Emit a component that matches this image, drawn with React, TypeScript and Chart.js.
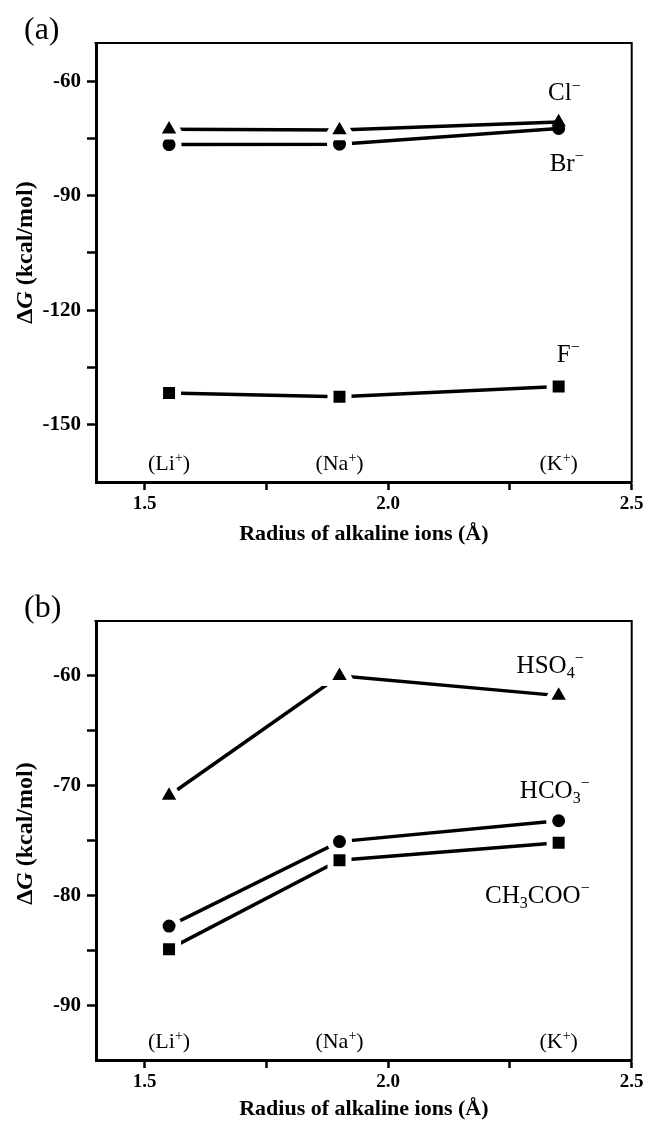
import React, { useEffect, useRef } from 'react';
import { Chart, registerables } from 'chart.js';

Chart.register(...registerables);

// ---------- data ----------
const radius = [1.55, 1.9, 2.35];
const cations = ['Li', 'Na', 'K'];

const clValues = [-72.6, -72.8, -70.7];
const brValues = [-76.6, -76.5, -72.4];
const fValues = [-141.7, -142.7, -140.0];

const hso4Values = [-70.9, -60.0, -61.8];
const hco3Values = [-82.8, -75.1, -73.2];
const ch3cooValues = [-84.9, -76.8, -75.2];

const xTicks = [1.5, 1.75, 2.0, 2.25, 2.5];
const xTickLabels = ['1.5', '', '2.0', '', '2.5'];
const yTicksA = [-60, -75, -90, -105, -120, -135, -150];
const yTickLabelsA = ['-60', '', '-90', '', '-120', '', '-150'];
const yTicksB = [-60, -65, -70, -75, -80, -85, -90];
const yTickLabelsB = ['-60', '', '-70', '', '-80', '', '-90'];

type Run = { t: string; s?: 'sup' | 'sub'; i?: boolean };

const clName: Run[] = [{ t: 'Cl' }, { t: '−', s: 'sup' }];
const brName: Run[] = [{ t: 'Br' }, { t: '−', s: 'sup' }];
const fName: Run[] = [{ t: 'F' }, { t: '−', s: 'sup' }];
const hso4Name: Run[] = [{ t: 'HSO' }, { t: '4', s: 'sub' }, { t: '−', s: 'sup' }];
const hco3Name: Run[] = [{ t: 'HCO' }, { t: '3', s: 'sub' }, { t: '−', s: 'sup' }];
const ch3cooName: Run[] = [{ t: 'CH' }, { t: '3', s: 'sub' }, { t: 'COO' }, { t: '−', s: 'sup' }];

const xTitle = 'Radius of alkaline ions (Å)';
const yTitleRuns: Run[] = [{ t: 'Δ' }, { t: 'G', i: true }, { t: ' (kcal/mol)' }];

// ---------- style ----------
const FONT = '"Liberation Serif", "Times New Roman", serif';
const HALO = 6;

function drawRuns(ctx: CanvasRenderingContext2D, runs: Run[], x: number, y: number, align: string, size: number, weight: string) {
  const fontFor = (r: Run) => `${r.i ? 'italic ' : ''}${weight} ${r.s ? Math.round(size * 0.62) : size}px ${FONT}`;
  let total = 0;
  const widths = runs.map((r) => {
    ctx.font = fontFor(r);
    const w = ctx.measureText(r.t).width;
    total += w;
    return w;
  });
  let cx = align === 'right' ? x - total : align === 'center' ? x - total / 2 : x;
  ctx.textAlign = 'left';
  ctx.textBaseline = 'alphabetic';
  runs.forEach((r, k) => {
    ctx.font = fontFor(r);
    const dy = r.s === 'sup' ? -size * 0.38 : r.s === 'sub' ? size * 0.2 : 0;
    ctx.fillText(r.t, cx, y + dy);
    cx += widths[k];
  });
}

const annotPlugin = {
  id: 'annot',
  afterDraw(chart: any, _args: any, opts: any) {
    const { ctx, chartArea: ca, scales } = chart;
    const p = opts.panel;
    ctx.save();
    ctx.strokeStyle = '#000';
    ctx.lineWidth = 2;
    ctx.beginPath();
    ctx.moveTo(ca.left - 1.5, ca.top);
    ctx.lineTo(ca.right, ca.top);
    ctx.lineTo(ca.right, ca.bottom + 1.5);
    ctx.stroke();

    ctx.fillStyle = '#000';
    drawRuns(ctx, [{ t: p.tag }], 24, ca.top - 4, 'left', 32, 'normal');

    radius.forEach((r, i) => {
      drawRuns(
        ctx,
        [{ t: '(' + cations[i] }, { t: '+', s: 'sup' }, { t: ')' }],
        scales.x.getPixelForValue(r),
        ca.bottom - 12,
        'center',
        22,
        'normal'
      );
    });

    p.series.forEach((s: any) => {
      const last = s.values.length - 1;
      const px = scales.x.getPixelForValue(radius[last]);
      const py = scales.y.getPixelForValue(s.values[last]);
      drawRuns(ctx, s.name, px + s.dx, py + s.dy, 'right', 25, 'normal');
    });

    ctx.translate(24, (ca.top + ca.bottom) / 2 + p.yTitleShift);
    ctx.rotate(-Math.PI / 2);
    drawRuns(ctx, yTitleRuns, 0, 8, 'center', 24, 'bold');
    ctx.restore();
  },
};

const markerSize: Record<string, number> = { triangle: 8.3, circle: 6.5 };
function radiusFor(style: string, halo: number) {
  if (style === 'triangle') return markerSize.triangle + halo;
  if (style === 'circle') return markerSize.circle + halo / 2;
  return (6 + halo / 2) / Math.SQRT1_2;
}

const panelA = {
  tag: '(a)',
  yMin: -165,
  yMax: -50,
  yTicks: yTicksA,
  yTickLabels: yTickLabelsA,
  padTop: 43,
  height: 561,
  xAxisHeight: 79,
  titlePad: 13,
  yTitleShift: -10,
  series: [
    { name: clName, values: clValues, style: 'triangle', dx: 22, dy: -22, noHalo: [2] },
    { name: brName, values: brValues, style: 'circle', dx: 25, dy: 42, noHalo: [2] },
    { name: fName, values: fValues, style: 'rect', dx: 21, dy: -25, noHalo: [] },
  ],
};

const panelB = {
  tag: '(b)',
  yMin: -95,
  yMax: -55,
  yTicks: yTicksB,
  yTickLabels: yTickLabelsB,
  padTop: 60,
  height: 562,
  xAxisHeight: 63,
  titlePad: 0,
  yTitleShift: -7,
  series: [
    { name: hso4Name, values: hso4Values, style: 'triangle', dx: 25, dy: -23, noHalo: [] },
    { name: hco3Name, values: hco3Values, style: 'circle', dx: 31, dy: -23, noHalo: [] },
    { name: ch3cooName, values: ch3cooValues, style: 'rect', dx: 31, dy: 60, noHalo: [] },
  ],
};

function makeConfig(p: any): any {
  return {
    type: 'line',
    data: {
      datasets: p.series.map((s: any) => ({
        data: radius.map((x, i) => ({ x, y: s.values[i] })),
        borderColor: '#000',
        borderWidth: 3.5,
        fill: false,
        tension: 0,
        pointStyle: s.style,
        pointBackgroundColor: '#000',
        pointBorderColor: '#fff',
        pointBorderWidth: (c: any) => (s.noHalo.includes(c.dataIndex) ? 0 : HALO),
        pointRadius: (c: any) => radiusFor(s.style, s.noHalo.includes(c.dataIndex) ? 0 : HALO),
        clip: false,
      })),
    },
    options: {
      responsive: false,
      animation: false,
      devicePixelRatio: 1,
      layout: { padding: { top: p.padTop, right: 16, left: 0, bottom: 0 } },
      plugins: {
        legend: { display: false },
        tooltip: { enabled: false },
        annot: { panel: p },
      },
      scales: {
        x: {
          type: 'linear',
          min: 1.4,
          max: 2.5,
          afterBuildTicks: (axis: any) => {
            axis.ticks = xTicks.map((v) => ({ value: v }));
          },
          afterFit: (axis: any) => {
            axis.height = p.xAxisHeight;
          },
          ticks: {
            callback: (_v: any, i: number) => xTickLabels[i],
            font: { family: FONT, size: 19, weight: 'bold' },
            color: '#000',
            padding: 3,
            maxRotation: 0,
            autoSkip: false,
          },
          grid: { drawOnChartArea: false, drawTicks: true, tickLength: 8, tickWidth: 2.5, tickColor: '#000' },
          border: { display: true, color: '#000', width: 3 },
          title: {
            display: true,
            text: xTitle,
            color: '#000',
            font: { family: FONT, size: 22, weight: 'bold' },
            padding: { top: 0, bottom: p.titlePad },
          },
        },
        y: {
          type: 'linear',
          min: p.yMin,
          max: p.yMax,
          afterBuildTicks: (axis: any) => {
            axis.ticks = p.yTicks.map((v: number) => ({ value: v }));
          },
          afterFit: (axis: any) => {
            axis.width = 96;
          },
          ticks: {
            callback: (_v: any, i: number) => p.yTickLabels[i],
            font: { family: FONT, size: 21, weight: 'bold' },
            color: '#000',
            padding: 6,
            autoSkip: false,
          },
          grid: { drawOnChartArea: false, drawTicks: true, tickLength: 9, tickWidth: 2.5, tickColor: '#000' },
          border: { display: true, color: '#000', width: 3 },
        },
      },
    },
    plugins: [annotPlugin],
  };
}

function Panel({ cfg, top }: { cfg: any; top: number }) {
  const ref = useRef<HTMLCanvasElement | null>(null);
  useEffect(() => {
    const chart = new Chart(ref.current as HTMLCanvasElement, makeConfig(cfg));
    return () => chart.destroy();
  }, [cfg]);
  return (
    <canvas
      ref={ref}
      width={652}
      height={cfg.height}
      style={{ position: 'absolute', left: 0, top, width: 652, height: cfg.height, display: 'block' }}
    />
  );
}

export default function App() {
  return (
    <div style={{ position: 'absolute', left: 0, top: 0, width: 652, height: 1123, background: '#fff', overflow: 'hidden' }}>
      <Panel cfg={panelA} top={0} />
      <Panel cfg={panelB} top={561} />
    </div>
  );
}
